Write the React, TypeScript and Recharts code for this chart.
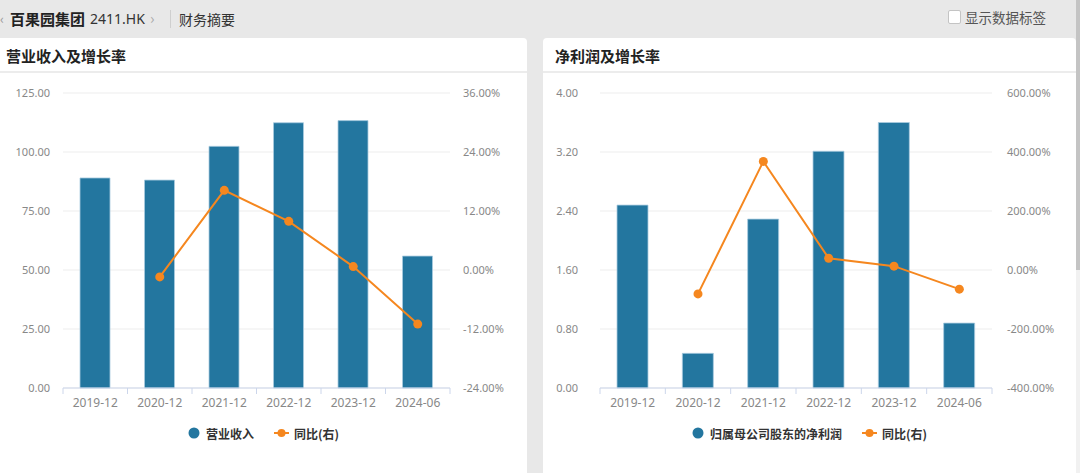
import React from 'react';
import { ComposedChart, Bar, Line, XAxis, YAxis, CartesianGrid, Legend } from 'recharts';

const categories = ['2019-12', '2020-12', '2021-12', '2022-12', '2023-12', '2024-06'];
const revenue = [89.0, 88.1, 102.4, 112.4, 113.3, 55.9];
const revenueYoY: (number | null)[] = [null, -1.4, 16.2, 9.9, 0.7, -11.0];
const netProfit = [2.48, 0.47, 2.29, 3.21, 3.6, 0.88];
const netProfitYoY: (number | null)[] = [null, -81, 368, 40, 13, -65];
const revenueTicks = [0, 25, 50, 75, 100, 125];
const revenueYoYTicks = [-24, -12, 0, 12, 24, 36];
const profitTicks = [0, 0.8, 1.6, 2.4, 3.2, 4.0];
const profitYoYTicks = [-400, -200, 0, 200, 400, 600];

const BLUE = '#23769f';
const ORANGE = '#f5871f';
const AXIS = '#ccd6eb';
const FONT = "'Noto Sans', 'Noto Sans CJK SC', sans-serif";
const CJK = "'Noto Sans CJK SC', 'Noto Sans', sans-serif";

const revenueData = categories.map((c, i) => ({ name: c, bar: revenue[i], yoy: revenueYoY[i] }));
const profitData = categories.map((c, i) => ({ name: c, bar: netProfit[i], yoy: netProfitYoY[i] }));

const makeTick = (half: number, count: number) => (props: any) => {
  const { x, y, payload, index } = props;
  const axisY = y - 10;
  return (
    <g>
      <line x1={x - half} x2={x - half} y1={axisY} y2={axisY + 6} stroke={AXIS} />
      {index === count - 1 && (
        <line x1={x + half} x2={x + half} y1={axisY} y2={axisY + 6} stroke={AXIS} />
      )}
      <text x={x} y={y} dy="0.71em" textAnchor="middle" fill="#888" fontSize={12} fontFamily={FONT}>
        {payload.value}
      </text>
    </g>
  );
};

const LegendContent = (props: any) => {
  const { payload } = props;
  const items = [...(payload || [])].sort(
    (a: any, b: any) => (a.type === 'line' ? 1 : 0) - (b.type === 'line' ? 1 : 0)
  );
  return (
    <div
      style={{
        display: 'flex',
        justifyContent: 'center',
        alignItems: 'center',
        fontFamily: CJK,
        fontSize: 12,
        fontWeight: 'bold',
        color: '#333',
        height: 20,
      }}
    >
      {items.map((it: any, i: number) => (
        <div key={i} style={{ display: 'flex', alignItems: 'center', marginLeft: i === 0 ? 0 : 20 }}>
          {it.type === 'line' ? (
            <svg width={15} height={10} style={{ marginRight: 5 }}>
              <line x1={0} x2={15} y1={5} y2={5} stroke={ORANGE} strokeWidth={2} />
              <circle cx={7.5} cy={5} r={4} fill={ORANGE} />
            </svg>
          ) : (
            <svg width={12} height={12} style={{ marginRight: 6 }}>
              <circle cx={6} cy={6} r={5.5} fill={BLUE} />
            </svg>
          )}
          <span>{it.value}</span>
        </div>
      ))}
    </div>
  );
};

type ChartProps = {
  data: any[];
  width: number;
  leftW: number;
  rightW: number;
  leftMargin: number;
  rightMargin: number;
  barName: string;
  leftTicks: number[];
  rightTicks: number[];
  leftFmt: (v: number) => string;
  rightFmt: (v: number) => string;
  barSize: number;
};

function DualChart(p: ChartProps) {
  const plotW = p.width - p.leftW - p.rightW;
  const half = plotW / p.data.length / 2;
  return (
    <ComposedChart
      width={p.width}
      height={393}
      data={p.data}
      margin={{ top: 13, right: 0, bottom: 55, left: 0 }}
    >
      <CartesianGrid yAxisId="left" vertical={false} stroke="#ededed" />
      <XAxis
        dataKey="name"
        axisLine={{ stroke: AXIS }}
        tickLine={false}
        tickSize={6}
        tickMargin={4}
        height={30}
        interval={0}
        tick={makeTick(half, p.data.length)}
      />
      <YAxis
        yAxisId="left"
        orientation="left"
        width={p.leftW}
        domain={[p.leftTicks[0], p.leftTicks[p.leftTicks.length - 1]]}
        ticks={p.leftTicks}
        tickFormatter={p.leftFmt}
        axisLine={false}
        tickLine={false}
        tickMargin={p.leftMargin}
        tick={{ fill: '#888', fontSize: 11, fontFamily: FONT }}
      />
      <YAxis
        yAxisId="right"
        orientation="right"
        width={p.rightW}
        domain={[p.rightTicks[0], p.rightTicks[p.rightTicks.length - 1]]}
        ticks={p.rightTicks}
        tickFormatter={p.rightFmt}
        axisLine={false}
        tickLine={false}
        tickMargin={p.rightMargin}
        tick={{ fill: '#888', fontSize: 11, fontFamily: FONT }}
      />
      <Legend
        verticalAlign="middle"
        align="center"
        layout="horizontal"
        content={<LegendContent />}
        wrapperStyle={{ top: 343, left: 0, width: p.width }}
      />
      <Bar
        yAxisId="left"
        dataKey="bar"
        name={p.barName}
        fill={BLUE}
        stroke="#a9cbe0"
        strokeWidth={0.8}
        barSize={p.barSize}
        isAnimationActive={false}
        legendType="circle"
      />
      <Line
        yAxisId="right"
        dataKey="yoy"
        name="同比(右)"
        stroke={ORANGE}
        strokeWidth={2}
        dot={{ r: 4.5, fill: ORANGE, stroke: ORANGE, strokeWidth: 0 }}
        activeDot={false}
        isAnimationActive={false}
        legendType="line"
      />
    </ComposedChart>
  );
}

export default function App() {
  return (
    <div
      style={{
        position: 'absolute',
        left: 0,
        top: 0,
        width: 1080,
        height: 473,
        background: '#e8e8e8',
        overflow: 'hidden',
        fontFamily: CJK,
      }}
    >
      {/* header */}
      <div style={{ position: 'absolute', left: 0, top: 9, fontSize: 13, color: '#999', lineHeight: '20px' }}>‹</div>
      <div style={{ position: 'absolute', left: 10, top: 8, fontSize: 15, fontWeight: 'bold', color: '#222', lineHeight: '22px' }}>
        百果园集团
      </div>
      <div style={{ position: 'absolute', left: 90, top: 9, fontSize: 14, color: '#333', lineHeight: '20px', fontFamily: FONT }}>
        2411.HK
      </div>
      <div style={{ position: 'absolute', left: 150, top: 8, fontSize: 15, color: '#aaa', lineHeight: '20px' }}>›</div>
      <div style={{ position: 'absolute', left: 170, top: 10, width: 1, height: 18, background: '#cfcfcf' }} />
      <div style={{ position: 'absolute', left: 179, top: 9, fontSize: 14, color: '#333', lineHeight: '20px' }}>财务摘要</div>
      <div
        style={{
          position: 'absolute',
          left: 948,
          top: 10,
          width: 11,
          height: 12,
          background: '#fff',
          border: '1px solid #c4c4c4',
          borderRadius: 2,
        }}
      />
      <div style={{ position: 'absolute', left: 965, top: 7, fontSize: 13.5, color: '#555', lineHeight: '20px' }}>
        显示数据标签
      </div>
      <div style={{ position: 'absolute', left: 1076, top: 0, width: 4, height: 473, background: '#f1f1f1' }} />
      <div style={{ position: 'absolute', left: 1076, top: 0, width: 4, height: 270, background: '#c4c4c4' }} />

      {/* left panel */}
      <div style={{ position: 'absolute', left: -6, top: 38, width: 533, height: 445, background: '#fff', borderRadius: 4 }} />
      <div style={{ position: 'absolute', left: 0, top: 71, width: 527, height: 2, background: '#ececec' }} />
      <div style={{ position: 'absolute', left: 6, top: 45, fontSize: 15, fontWeight: 'bold', color: '#222', lineHeight: '22px' }}>
        营业收入及增长率
      </div>
      <div style={{ position: 'absolute', left: 0, top: 80 }}>
        <DualChart
          data={revenueData}
          width={527}
          leftW={63}
          rightW={77}
          leftMargin={7}
          rightMargin={7}
          barName="营业收入"
          leftTicks={revenueTicks}
          rightTicks={revenueYoYTicks}
          leftFmt={(v) => v.toFixed(2)}
          rightFmt={(v) => v.toFixed(2) + '%'}
          barSize={30}
        />
      </div>

      {/* right panel */}
      <div style={{ position: 'absolute', left: 543, top: 38, width: 533, height: 445, background: '#fff', borderRadius: 4 }} />
      <div style={{ position: 'absolute', left: 543, top: 71, width: 533, height: 2, background: '#ececec' }} />
      <div style={{ position: 'absolute', left: 555, top: 45, fontSize: 15, fontWeight: 'bold', color: '#222', lineHeight: '22px' }}>
        净利润及增长率
      </div>
      <div style={{ position: 'absolute', left: 543, top: 80 }}>
        <DualChart
          data={profitData}
          width={533}
          leftW={57}
          rightW={84}
          leftMargin={16}
          rightMargin={9}
          barName="归属母公司股东的净利润"
          leftTicks={profitTicks}
          rightTicks={profitYoYTicks}
          leftFmt={(v) => v.toFixed(2)}
          rightFmt={(v) => v.toFixed(2) + '%'}
          barSize={31}
        />
      </div>
    </div>
  );
}
